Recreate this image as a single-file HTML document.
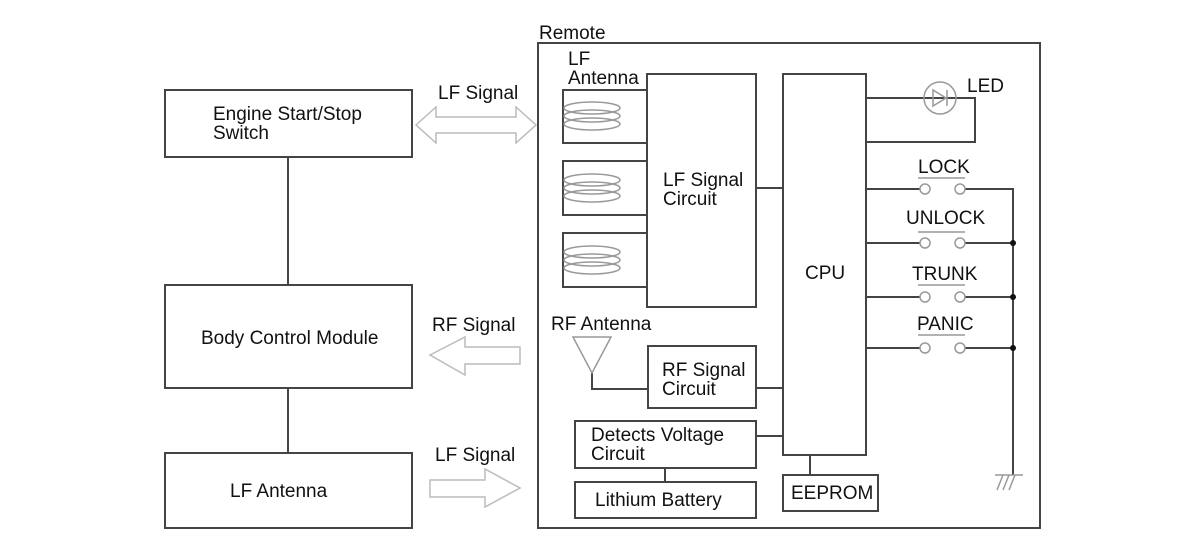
<!DOCTYPE html>
<html><head><style>body{margin:0;background:#fff}svg{display:block}text{font-family:"Liberation Sans",sans-serif;font-size:19px;fill:#111}</style></head><body>
<svg width="1200" height="552" viewBox="0 0 1200 552" xmlns="http://www.w3.org/2000/svg">
<g fill="none" stroke="#444" stroke-width="2">
<rect x="538" y="43" width="502" height="485"/>
<rect x="165" y="90" width="247" height="67"/>
<rect x="165" y="285" width="247" height="103"/>
<rect x="165" y="453" width="247" height="75"/>
<line x1="288" y1="157" x2="288" y2="285"/>
<line x1="288" y1="388" x2="288" y2="453"/>
<rect x="647" y="74" width="109" height="233"/>
<path d="M647 90H563V143H647M647 161H563V215H647M647 233H563V287H647"/>
<rect x="783" y="74" width="83" height="381"/>
<line x1="756" y1="188" x2="783" y2="188"/>
<path d="M866 98H975V142H866"/>
<path d="M866 189H920M965 189H1013V475M866 243H920M965 243H1013M866 297H920M965 297H1013M866 348H920M965 348H1013"/>
<rect x="648" y="346" width="108" height="62"/>
<path d="M592 373V389H648M756 388H783"/>
<rect x="575" y="421" width="181" height="47"/>
<line x1="756" y1="436" x2="783" y2="436"/>
<rect x="575" y="482" width="181" height="36"/>
<line x1="665" y1="468" x2="665" y2="482"/>
<rect x="783" y="475" width="95" height="36"/>
<line x1="810" y1="455" x2="810" y2="475"/>
</g>
<g fill="none" stroke="#999" stroke-width="1.5">
<ellipse cx="592" cy="108" rx="28" ry="6"/><ellipse cx="592" cy="116" rx="28" ry="6"/><ellipse cx="592" cy="124" rx="28" ry="6"/>
<ellipse cx="592" cy="180" rx="28" ry="6"/><ellipse cx="592" cy="188" rx="28" ry="6"/><ellipse cx="592" cy="196" rx="28" ry="6"/>
<ellipse cx="592" cy="252" rx="28" ry="6"/><ellipse cx="592" cy="260" rx="28" ry="6"/><ellipse cx="592" cy="268" rx="28" ry="6"/>
<circle cx="940" cy="98" r="16"/>
<path d="M933 90V106L946 98ZM947 90V106"/>
<circle cx="925" cy="189" r="5" fill="#fff"/><circle cx="960" cy="189" r="5" fill="#fff"/>
<circle cx="925" cy="243" r="5" fill="#fff"/><circle cx="960" cy="243" r="5" fill="#fff"/>
<circle cx="925" cy="297" r="5" fill="#fff"/><circle cx="960" cy="297" r="5" fill="#fff"/>
<circle cx="925" cy="348" r="5" fill="#fff"/><circle cx="960" cy="348" r="5" fill="#fff"/>
<path d="M918 178H965M918 232H965M918 285H965M918 335H965"/>
<path d="M997 490L1003 475M1003 490L1009 475M1009 490L1015 475M995 475H1023"/>
<path d="M573 337H611L592 373Z"/>
<path d="M416 125L436 107V117H516V107L536 125L516 143V133H436V143Z" stroke="#bbb"/>
<path d="M430 355L465 337V347H520V364H465V375Z" stroke="#bbb"/>
<path d="M430 480H485V469L520 488L485 507V497H430Z" stroke="#bbb"/>
</g>
<g fill="#111"><circle cx="1013" cy="243" r="3"/><circle cx="1013" cy="297" r="3"/><circle cx="1013" cy="348" r="3"/></g>
<text x="539" y="39">Remote</text>
<text x="568" y="65">LF</text><text x="568" y="84">Antenna</text>
<text x="663" y="186">LF Signal</text><text x="663" y="205">Circuit</text>
<text x="805" y="279">CPU</text>
<text x="967" y="92">LED</text>
<text x="918" y="173">LOCK</text>
<text x="906" y="224">UNLOCK</text>
<text x="912" y="280">TRUNK</text>
<text x="917" y="330">PANIC</text>
<text x="551" y="330">RF Antenna</text>
<text x="662" y="376">RF Signal</text><text x="662" y="395">Circuit</text>
<text x="591" y="441">Detects Voltage</text><text x="591" y="460">Circuit</text>
<text x="595" y="506">Lithium Battery</text>
<text x="791" y="499">EEPROM</text>
<text x="213" y="120">Engine Start/Stop</text><text x="213" y="139">Switch</text>
<text x="201" y="344">Body Control Module</text>
<text x="230" y="497">LF Antenna</text>
<text x="438" y="99">LF Signal</text>
<text x="432" y="331">RF Signal</text>
<text x="435" y="461">LF Signal</text>
</svg>
</body></html>
